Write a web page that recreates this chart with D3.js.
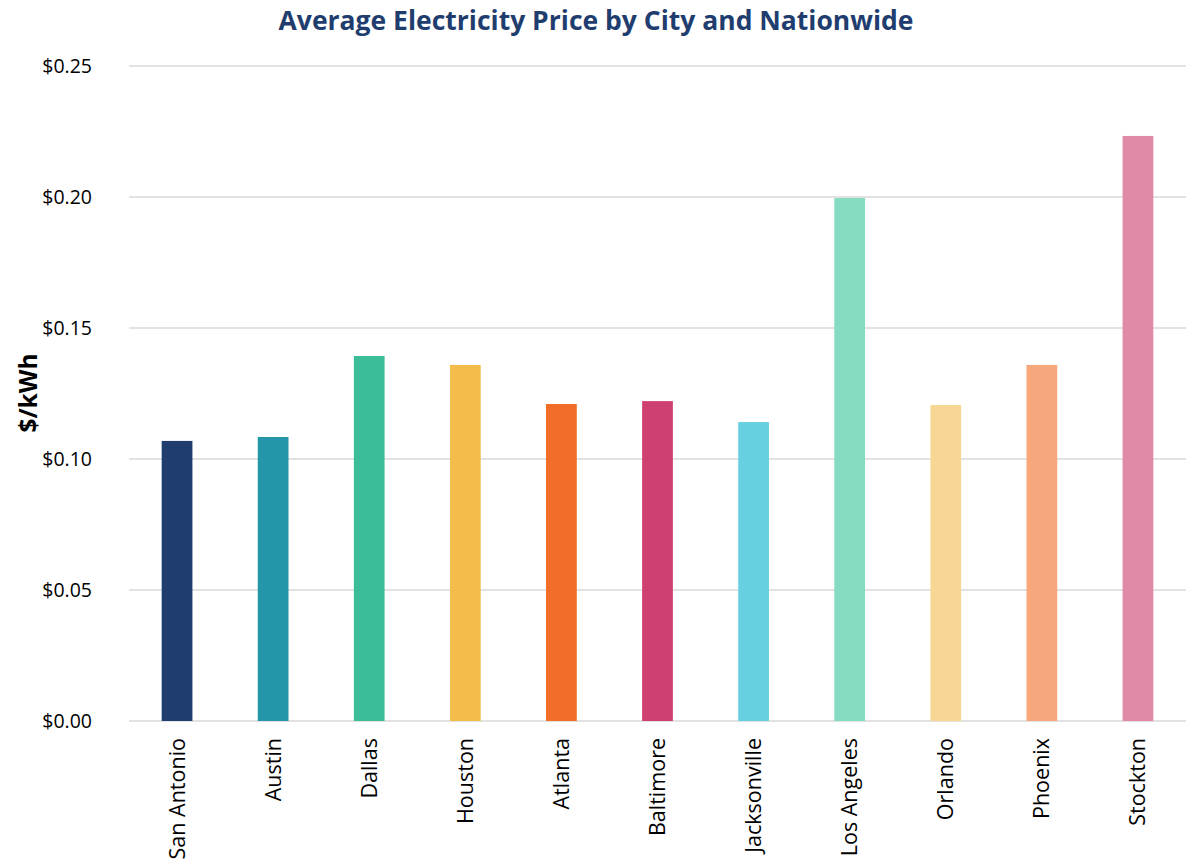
<!DOCTYPE html>
<html>
<head>
<meta charset="utf-8">
<script src="https://cdn.jsdelivr.net/npm/d3@7"></script>
<style>
  body { margin: 0; background: #fff; }
  text { font-family: "Open Sans", sans-serif; }
</style>
</head>
<body>
<div id="chart"></div>
<script>
// chart data
const cities = ['San Antonio', 'Austin', 'Dallas', 'Houston', 'Atlanta', 'Baltimore',
    'Jacksonville', 'Los Angeles', 'Orlando', 'Phoenix', 'Stockton'];
const prices = [0.1069, 0.1084, 0.1393, 0.1359, 0.1210, 0.1221, 0.1141, 0.1996, 0.1206, 0.1359, 0.2233];
const barColors = ['#1F3D6E', '#2397A9', '#3BBD9A', '#F4BC4B', '#F26D28', '#CE4071',
    '#67D0E0', '#85DCC2', '#F8D794', '#F6A77C', '#E18AA8'];
const yTicks = [0, 0.05, 0.10, 0.15, 0.20, 0.25];

const width = 1195, height = 861;
const margin = { top: 66, right: 9, bottom: 140, left: 129 };

const svg = d3.select('#chart')
    .append('svg')
    .attr('width', width)
    .attr('height', height);

const x = d3.scaleBand()
    .domain(cities)
    .range([margin.left, width - margin.right])
    .paddingInner(0.68)
    .paddingOuter(0.34);

const y = d3.scaleLinear()
    .domain([0, 0.25])
    .range([height - margin.bottom, margin.top]);

// gridlines
svg.append('g')
    .selectAll('line')
    .data(yTicks)
    .enter()
    .append('line')
    .attr('x1', margin.left)
    .attr('x2', width - margin.right)
    .attr('y1', d => y(d))
    .attr('y2', d => y(d))
    .attr('stroke', '#d9d9d9')
    .attr('stroke-width', 1.5);

// y axis labels
const yAxis = svg.append('g')
    .attr('transform', `translate(${margin.left - 37},0)`)
    .call(d3.axisLeft(y).tickValues(yTicks).tickSize(0).tickFormat(d3.format('$.2f')));
yAxis.select('.domain').remove();
yAxis.selectAll('text')
    .attr('x', 0)
    .style('font-size', '19.5px')
    .style('fill', '#000');

// bars
svg.append('g')
    .selectAll('rect')
    .data(prices)
    .enter()
    .append('rect')
    .attr('x', (d, i) => x(cities[i]))
    .attr('width', x.bandwidth())
    .attr('y', d => y(d))
    .attr('height', d => y(0) - y(d))
    .attr('fill', (d, i) => barColors[i]);

// x axis labels
const xAxis = svg.append('g')
    .attr('transform', `translate(0,${height - margin.bottom})`)
    .call(d3.axisBottom(x).tickSize(0));
xAxis.select('.domain').remove();
xAxis.selectAll('text')
    .attr('transform', 'rotate(-90)')
    .attr('x', -17)
    .attr('y', 0)
    .attr('dy', '0.35em')
    .attr('text-anchor', 'end')
    .style('font-size', '21.5px')
    .style('fill', '#000');

// y axis title
svg.append('text')
    .attr('transform', 'translate(28,393) rotate(-90)')
    .attr('text-anchor', 'middle')
    .attr('dy', '0.35em')
    .style('font-size', '24.5px')
    .style('font-weight', 'bold')
    .text('$/kWh');

// chart title
svg.append('text')
    .attr('x', 596)
    .attr('y', 30)
    .attr('text-anchor', 'middle')
    .style('font-size', '26.5px')
    .style('font-weight', 'bold')
    .style('fill', '#1F3D6E')
    .text('Average Electricity Price by City and Nationwide');
</script>
</body>
</html>
